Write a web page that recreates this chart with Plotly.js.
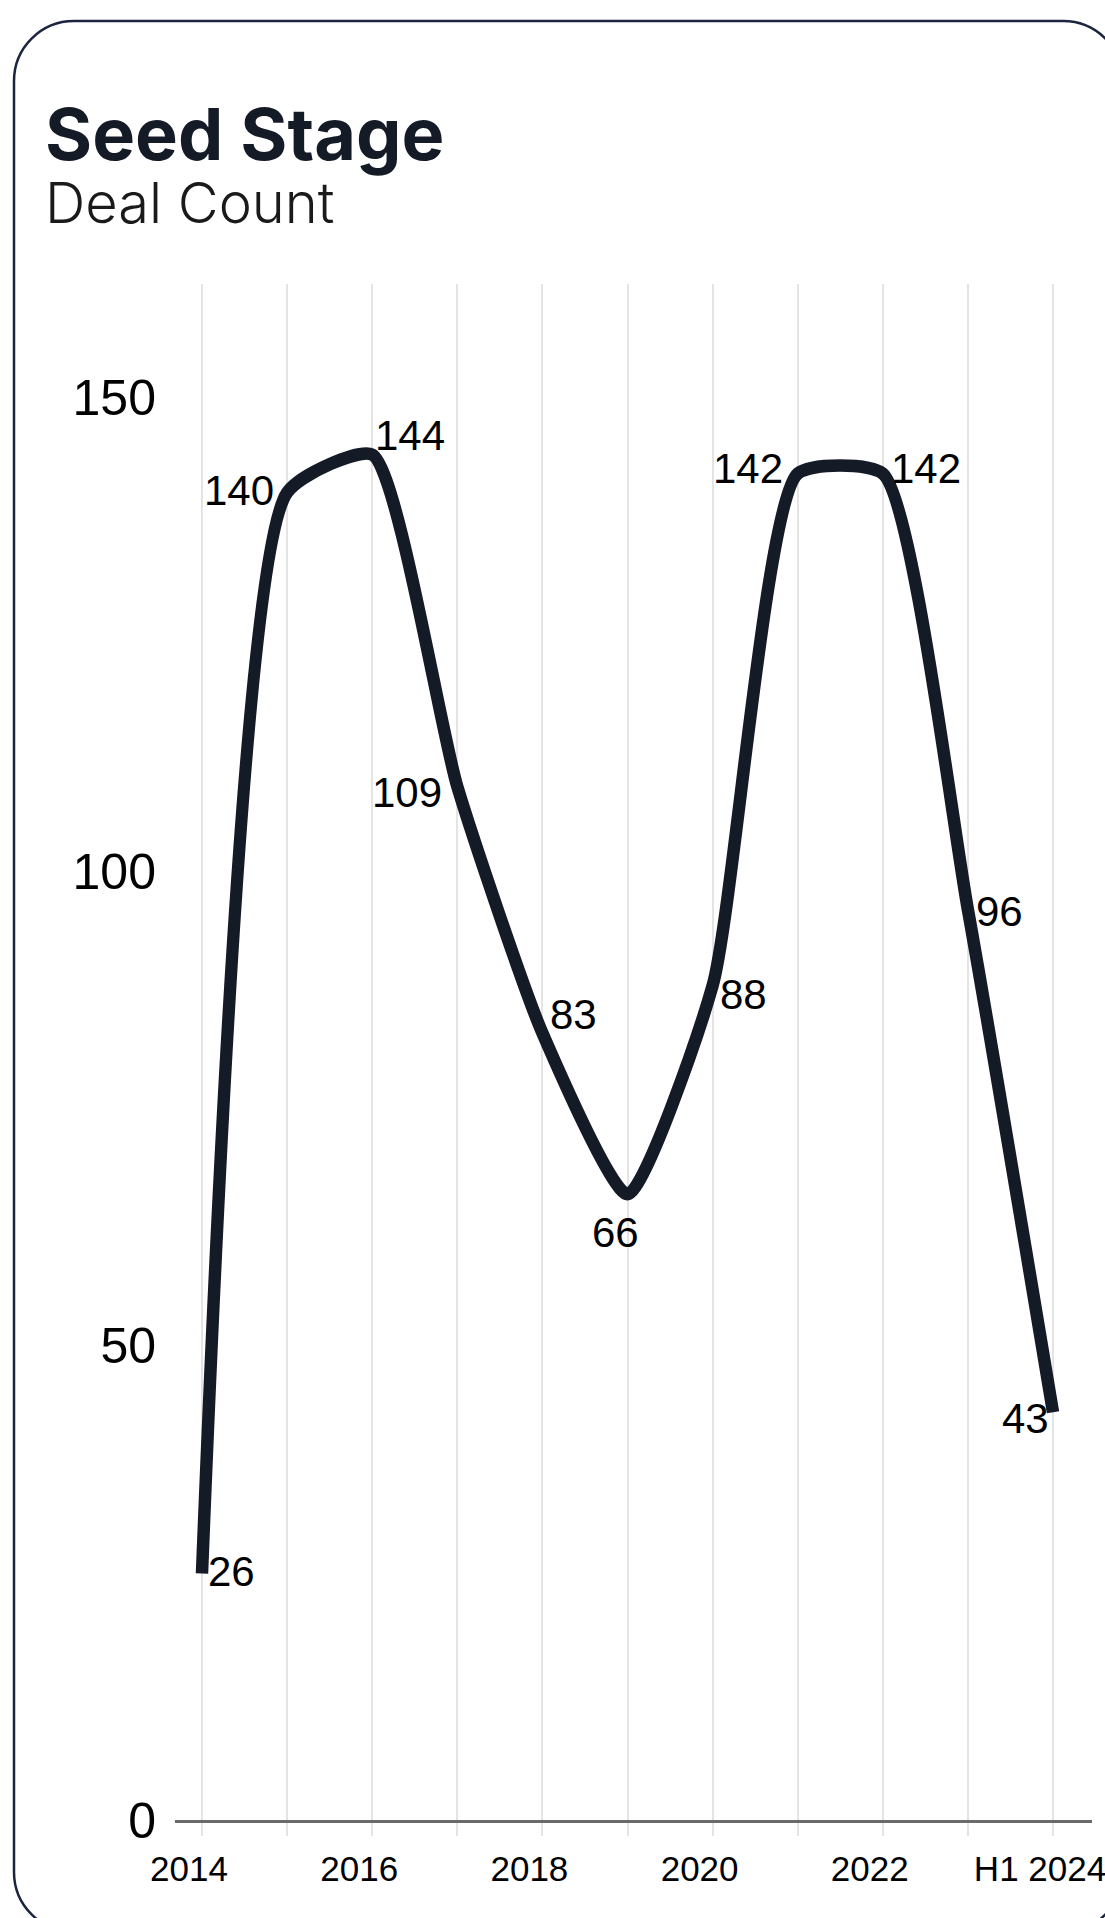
<!DOCTYPE html>
<html>
<head>
<meta charset="utf-8">
<script src="https://cdn.plot.ly/plotly-3.0.1.min.js"></script>
<style>
  html, body { margin: 0; padding: 0; background: #ffffff; overflow: hidden; }
  #chart { width: 1105px; height: 1918px; }
</style>
</head>
<body>
<div id="chart"></div>
<script>
// ---- data ----
const years = ['2014', '2015', '2016', '2017', '2018', '2019', '2020', '2021', '2022', '2023', 'H1 2024'];
const dealCount = [26, 140, 144, 109, 83, 66, 88, 142, 142, 96, 43];
const tickLabels = ['2014', '', '2016', '', '2018', '', '2020', '', '2022', '', 'H1 2024'];
const yTicks = [0, 50, 100, 150];
const titleText = 'Seed Stage';
const subtitleText = 'Deal Count';

// value-label offsets from each point (px; y positive = up)
const labelDX = [30, -48, 38, -50, 31, -12, 31, -50, 43, 32, -28];
const labelDY = [2, 2, 19, -6, 19, -38, -9, 5, 5, -2, -6];

// ---- layout geometry (pixels) ----
const W = 1105, H = 1918;
const M = {l: 175, r: 13, t: 284, b: 98};
const PW = W - M.l - M.r, PH = H - M.t - M.b;
const px = x => (x - M.l) / PW;          // page px -> paper x
const py = y => (H - M.b - y) / PH;      // page px -> paper y

// rounded card path in paper coordinates
function roundedRect(x0, y0, x1, y1, r) {
  const k = 0.5523;
  const rx = r / PW, ry = r / PH;
  const X0 = px(x0), X1 = px(x1), Yt = py(y0), Yb = py(y1);
  return [
    `M ${X0 + rx},${Yt}`,
    `L ${X1 - rx},${Yt}`,
    `C ${X1 - rx + k * rx},${Yt} ${X1},${Yt - ry + k * ry} ${X1},${Yt - ry}`,
    `L ${X1},${Yb + ry}`,
    `C ${X1},${Yb + ry - k * ry} ${X1 - rx + k * rx},${Yb} ${X1 - rx},${Yb}`,
    `L ${X0 + rx},${Yb}`,
    `C ${X0 + rx - k * rx},${Yb} ${X0},${Yb + ry - k * ry} ${X0},${Yb + ry}`,
    `L ${X0},${Yt - ry}`,
    `C ${X0},${Yt - ry + k * ry} ${X0 + rx - k * rx},${Yt} ${X0 + rx},${Yt}`,
    'Z'
  ].join(' ');
}

const trace = {
  type: 'scatter',
  mode: 'lines',
  x: years,
  y: dealCount,
  line: {color: '#151a27', width: 12.5, shape: 'spline', smoothing: 0.55},
  cliponaxis: false,
  hoverinfo: 'skip',
  showlegend: false
};

// category axis: annotation x is the category index
const valueLabels = years.map((yr, i) => ({
  xref: 'x', yref: 'y',
  x: i, y: dealCount[i],
  text: String(dealCount[i]),
  showarrow: false,
  xanchor: 'center', yanchor: 'middle',
  xshift: labelDX[i], yshift: labelDY[i],
  font: {family: 'Liberation Sans, Arial, sans-serif', size: 42, color: '#000000'}
}));

const layout = {
  width: W,
  height: H,
  margin: M,
  paper_bgcolor: '#ffffff',
  plot_bgcolor: '#ffffff',
  showlegend: false,
  xaxis: {
    type: 'category',
    range: [-0.317, 10.458],
    tickmode: 'array',
    tickvals: years,
    ticktext: tickLabels,
    showgrid: true,
    gridcolor: '#e4e4e4',
    gridwidth: 2,
    ticks: 'outside',
    ticklen: 13,
    tickwidth: 2,
    tickcolor: '#e4e4e4',
    showline: true,
    linecolor: '#6a6a6a',
    linewidth: 3,
    zeroline: false,
    ticklabelshift: -13,
    ticklabelstandoff: 3,
    tickfont: {family: 'Liberation Sans, Arial, sans-serif', size: 35, color: '#000000'},
    fixedrange: true
  },
  yaxis: {
    range: [0, 162],
    tickmode: 'array',
    tickvals: yTicks,
    showgrid: false,
    zeroline: false,
    showline: false,
    ticks: '',
    ticklabelstandoff: 18,
    tickfont: {family: 'Liberation Sans, Arial, sans-serif', size: 50, color: '#000000'},
    fixedrange: true
  },
  shapes: [{
    type: 'path',
    xref: 'paper', yref: 'paper',
    path: roundedRect(14, 21, 1123, 1932, 60),
    line: {color: '#1b2540', width: 2.5},
    fillcolor: 'rgba(0,0,0,0)',
    layer: 'below'
  }],
  annotations: [
    {
      xref: 'paper', yref: 'paper',
      x: px(43), y: py(133.5),
      xanchor: 'left', yanchor: 'middle',
      text: '<b>' + titleText + '</b>',
      showarrow: false,
      font: {family: 'Inter, Noto Sans, sans-serif', size: 72, color: '#151a27'}
    },
    {
      xref: 'paper', yref: 'paper',
      x: px(43), y: py(203),
      xanchor: 'left', yanchor: 'middle',
      text: subtitleText,
      showarrow: false,
      font: {family: 'Inter, Noto Sans, sans-serif', size: 56, color: '#1a1a1a', weight: 300}
    }
  ].concat(valueLabels)
};

Plotly.newPlot('chart', [trace], layout, {staticPlot: true, displayModeBar: false});
</script>
</body>
</html>
